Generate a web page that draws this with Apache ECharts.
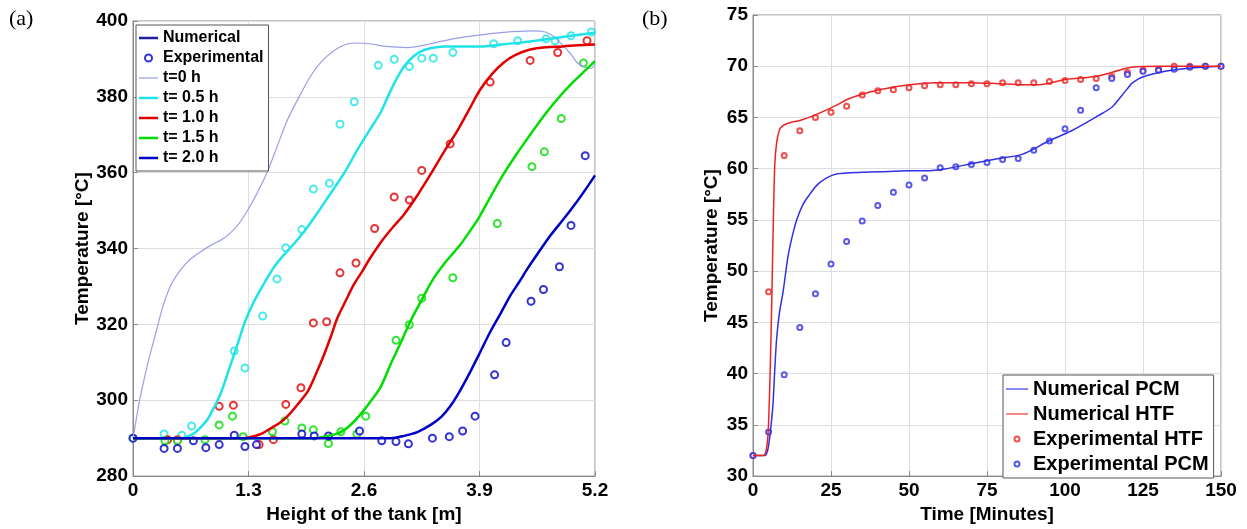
<!DOCTYPE html>
<html>
<head>
<meta charset="utf-8">
<script src="https://cdn.jsdelivr.net/npm/echarts@6/dist/echarts.min.js"></script>
<style>
  html, body { margin: 0; padding: 0; background: #fff; }
  #chart { width: 1247px; height: 529px; }
</style>
</head>
<body>
<div id="chart"></div>
<script>
// ---------- (a) temperature profiles along the tank height ----------
const heightTicks = [0, 1.3, 2.6, 3.9, 5.2];
const heightTickLabels = ['0', '1.3', '2.6', '3.9', '5.2'];
const tankTempTicks = [280, 300, 320, 340, 360, 380, 400];

const profileLabels = ['t=0 h', 't= 0.5 h', 't= 1.0 h', 't= 1.5 h', 't= 2.0 h'];
const profileColors = ['#9c9ce8', '#1ee4ea', '#e00000', '#00dd00', '#0000c8'];

// numerical profiles [height m, temperature °C]
const numT00 = [[0,290],[0.03,294],[0.07,299.5],[0.12,305],[0.18,311],[0.26,318],[0.34,325],[0.43,330.5],[0.54,334.5],[0.65,337.3],[0.77,339.3],[0.88,340.9],[1.0,342.4],[1.1,344.2],[1.2,346.8],[1.3,350.5],[1.4,354.8],[1.5,359.6],[1.6,365.5],[1.74,374],[1.87,380],[2.0,385.5],[2.15,390],[2.34,393.3],[2.5,394.2],[2.67,394],[2.85,393.3],[3.09,393],[3.35,394],[3.6,395.3],[3.9,396.3],[4.17,397],[4.47,397.4],[4.6,397.3],[4.7,396.5],[4.8,394.5],[4.92,391.5],[5.0,389],[5.07,388],[5.15,387.5],[5.2,388.6]];
const numT05 = [[0,290],[0.55,290],[0.62,290.5],[0.7,291.5],[0.78,293.3],[0.84,295],[0.92,298.5],[0.99,302],[1.05,306],[1.1,309.5],[1.18,315],[1.25,320],[1.33,324.5],[1.4,327.7],[1.5,331.8],[1.59,335.2],[1.7,338.4],[1.81,341.2],[1.92,344.3],[2.05,348.5],[2.22,354.4],[2.38,360],[2.53,366.2],[2.67,371.5],[2.79,376],[2.86,379.6],[2.95,384],[3.05,388],[3.15,390.5],[3.24,392],[3.35,392.8],[3.5,393.3],[3.7,393.3],[3.91,393.3],[4.15,393.8],[4.36,394.3],[4.6,395],[4.78,395.6],[5.0,396.3],[5.2,396.9]];
const numT10 = [[0,290],[1.25,290],[1.33,290.3],[1.45,291.2],[1.55,292.6],[1.65,294],[1.74,295.8],[1.85,298.8],[1.97,302.5],[2.06,307],[2.15,312],[2.23,317],[2.3,321.7],[2.4,326.5],[2.48,330.3],[2.58,334],[2.67,337.5],[2.8,342],[2.92,345.5],[3.05,349],[3.2,354],[3.35,359.6],[3.5,365.5],[3.65,371],[3.78,376.5],[3.91,382],[4.04,386],[4.17,389],[4.3,391],[4.47,392.5],[4.65,393.1],[4.84,393.3],[5.0,393.6],[5.2,393.8]];
const numT15 = [[0,290],[2.05,290],[2.15,290.4],[2.27,291],[2.37,292],[2.48,294.2],[2.6,297.4],[2.7,300.5],[2.79,303.6],[2.9,309.5],[3.0,314.5],[3.12,320.7],[3.25,326.5],[3.38,332],[3.52,336.5],[3.6,338.7],[3.69,341.2],[3.78,344.2],[3.88,347.6],[4.02,353.5],[4.17,359.6],[4.32,365],[4.47,370],[4.64,375.5],[4.81,380.3],[4.95,383.8],[5.07,386.5],[5.2,389.4]];
const numT20 = [[0,290],[2.9,290],[3.05,290.6],[3.2,291.6],[3.35,293.5],[3.47,295.6],[3.57,298.4],[3.68,302.5],[3.8,307.7],[3.91,312.8],[4.02,318],[4.14,323],[4.25,327.7],[4.35,331.3],[4.44,334.7],[4.55,338.5],[4.7,343.5],[4.84,347.6],[5.0,352.5],[5.1,355.8],[5.2,359.3]];

// measured profiles [height m, temperature °C]
const expT05 = [[0.35,291.1],[0.55,290.8],[0.66,293.2],[1.14,313],[1.26,308.5],[1.46,322.2],[1.62,332],[1.72,340.2],[1.9,345],[2.03,355.7],[2.21,357.2],[2.33,372.8],[2.49,378.7],[2.76,388.3],[2.94,389.9],[3.11,388],[3.25,390.2],[3.38,390.2],[3.6,391.7],[4.06,394],[4.33,394.8],[4.65,395.3],[4.75,394.8],[4.93,396.1],[5.16,397.1]];
const expT10 = [[0.39,289.6],[0.5,289.6],[0.97,298.4],[1.13,298.7],[1.42,288.3],[1.58,289.6],[1.72,298.9],[1.89,303.3],[2.03,320.4],[2.18,320.7],[2.33,333.6],[2.51,336.2],[2.72,345.3],[2.94,353.6],[3.11,352.8],[3.25,360.6],[3.57,367.6],[4.02,383.9],[4.47,389.6],[4.78,391.7],[5.11,394.8]];
const expT15 = [[0,290],[0.36,289.3],[0.5,289.3],[0.81,289.6],[0.97,293.5],[1.12,295.8],[1.24,290.4],[1.57,291.7],[1.71,294.5],[1.9,292.7],[2.03,292.2],[2.2,288.6],[2.34,291.7],[2.52,291.1],[2.62,295.8],[2.96,315.8],[3.11,319.9],[3.25,326.9],[3.6,332.3],[4.1,346.6],[4.49,361.6],[4.63,365.5],[4.82,374.3],[5.07,388.9]];
const expT20 = [[0,290],[0.35,287.3],[0.5,287.3],[0.68,289.3],[0.82,287.5],[0.97,288.3],[1.14,290.8],[1.26,287.8],[1.39,288.3],[1.9,291.1],[2.04,290.6],[2.2,290.6],[2.55,291.9],[2.8,289.3],[2.96,289.1],[3.1,288.5],[3.37,290],[3.56,290.4],[3.71,291.9],[3.85,295.8],[4.07,306.7],[4.2,315.2],[4.48,326.1],[4.62,329.2],[4.8,335.2],[4.93,346.1],[5.09,364.5]];

// ---------- (b) PCM and HTF temperature over time ----------
const timeTicks = [0, 25, 50, 75, 100, 125, 150];
const timeTempTicks = [30, 35, 40, 45, 50, 55, 60, 65, 70, 75];

// numerical histories [minutes, °C]
const numPCM = [[0,32],[3.8,32],[4.6,32.4],[5.1,33.2],[5.8,35],[6.4,37],[7.0,40.5],[7.6,43.5],[8.5,46],[9.6,47.9],[11.2,51.4],[12.5,53.3],[14,55],[16,56.5],[18.2,57.5],[20.5,58.4],[23.6,59.1],[27,59.5],[31,59.6],[40.5,59.7],[50.1,59.8],[56.5,59.8],[62,60.0],[67,60.3],[72,60.6],[78.8,61],[86.2,61.4],[94.8,62.7],[102.1,63.7],[110.8,65.2],[115,66],[118.1,67.1],[120.5,68.0],[121.3,68.3],[124.5,68.9],[132.1,69.5],[139.5,69.8],[150,70]];
const numHTF = [[0,32],[3.3,32],[4.2,32.5],[4.8,34],[5.3,38],[5.8,44],[6.2,50],[6.6,56],[7.0,60.5],[7.6,62.6],[8.5,63.8],[9.6,64.2],[12,64.5],[15,64.7],[20.4,65.3],[26.8,66.2],[30.5,66.8],[34.2,67.2],[40.5,67.7],[50.1,68.2],[58.7,68.4],[69.3,68.4],[78.8,68.3],[86.2,68.2],[91.6,68.2],[100.2,68.7],[109.8,69.0],[115,69.4],[121.3,69.9],[130.9,70],[150,70]];

// measurements every 5 minutes
const expTime = [0,5,10,15,20,25,30,35,40,45,50,55,60,65,70,75,80,85,90,95,100,105,110,115,120,125,130,135,140,145,150];
const expHTF = [32,48,61.3,63.7,65,65.5,66.1,67.2,67.6,67.7,67.9,68.1,68.2,68.2,68.3,68.3,68.4,68.4,68.4,68.5,68.6,68.7,68.8,69.0,69.4,69.6,69.7,70,70,70,70];
const expPCM = [32,34.3,39.9,44.5,47.8,50.7,52.9,54.9,56.4,57.7,58.4,59.1,60.1,60.2,60.4,60.6,60.9,61.0,61.8,62.7,63.9,65.7,67.9,68.8,69.2,69.5,69.6,69.7,69.9,70,70];

const FONT = 'Liberation Sans, Arial, sans-serif';
const pcmColor = '#3030e6';
const htfColor = '#ee2222';

function zip(xs, ys) { return xs.map((x, i) => [x, ys[i]]); }

// thin bar used as a legend key for the curves
function lineIcon(w, h) { return 'path://M0,0H' + w + 'V' + h + 'H0Z'; }

function valueAxis(ticks, labels, extra) {
  const step = ticks[1] - ticks[0];
  return Object.assign({
    type: 'value',
    min: ticks[0],
    max: ticks[ticks.length - 1],
    interval: step,
    axisLine: { show: true, onZero: false, lineStyle: { color: '#8a8a8a', width: 1 } },
    axisTick: { show: true, inside: true, length: 5, lineStyle: { color: '#8a8a8a' } },
    splitLine: { show: true, lineStyle: { color: '#dedede', width: 1 } },
    axisLabel: {
      color: '#000', fontFamily: FONT, fontWeight: 'bold', fontSize: 19, margin: 5,
      formatter: v => {
        const i = ticks.findIndex(t => Math.abs(t - v) < 1e-6);
        return i >= 0 ? labels[i] : '';
      }
    },
    nameLocation: 'middle',
    nameTextStyle: { color: '#000', fontFamily: FONT, fontWeight: 'bold', fontSize: 19 }
  }, extra);
}

const numProfiles = [numT00, numT05, numT10, numT15, numT20];
const expProfiles = [null, expT05, expT10, expT15, expT20];

const series = [];
// legend-only entries of panel (a)
series.push({ name: 'Numerical', type: 'line', xAxisIndex: 0, yAxisIndex: 0, data: [],
  symbol: 'none', lineStyle: { color: '#1e1e9e', width: 2.5 }, itemStyle: { color: '#1e1e9e' } });
series.push({ name: 'Experimental', type: 'scatter', xAxisIndex: 0, yAxisIndex: 0, data: [],
  symbol: 'emptyCircle', symbolSize: 7, itemStyle: { color: '#0000c8', borderColor: '#0000c8', borderWidth: 2 } });

numProfiles.forEach((d, i) => {
  series.push({
    name: profileLabels[i], type: 'line', xAxisIndex: 0, yAxisIndex: 0, data: d,
    smooth: 0.3, symbol: 'none',
    lineStyle: { color: profileColors[i], width: i === 0 ? 1.2 : 2.5 },
    itemStyle: { color: profileColors[i] }
  });
});
expProfiles.forEach((d, i) => {
  if (!d) return;
  series.push({
    name: 'measured ' + profileLabels[i], type: 'scatter', xAxisIndex: 0, yAxisIndex: 0, data: d,
    symbol: 'emptyCircle', symbolSize: 7,
    itemStyle: { color: profileColors[i], borderColor: profileColors[i], borderWidth: 1.9 }
  });
});

// panel (b)
series.push({ name: 'Numerical PCM', type: 'line', xAxisIndex: 1, yAxisIndex: 1, data: numPCM,
  smooth: 0.3, symbol: 'none', lineStyle: { color: pcmColor, width: 1.5 }, itemStyle: { color: pcmColor } });
series.push({ name: 'Numerical HTF', type: 'line', xAxisIndex: 1, yAxisIndex: 1, data: numHTF,
  smooth: 0.3, symbol: 'none', lineStyle: { color: htfColor, width: 1.5 }, itemStyle: { color: htfColor } });
series.push({ name: 'Experimental HTF', type: 'scatter', xAxisIndex: 1, yAxisIndex: 1, data: zip(expTime, expHTF),
  symbol: 'emptyCircle', symbolSize: 5, itemStyle: { color: htfColor, borderColor: htfColor, borderWidth: 1.2 } });
series.push({ name: 'Experimental PCM', type: 'scatter', xAxisIndex: 1, yAxisIndex: 1, data: zip(expTime, expPCM),
  symbol: 'emptyCircle', symbolSize: 5, itemStyle: { color: pcmColor, borderColor: pcmColor, borderWidth: 1.2 } });

const legendA = [
  { name: 'Numerical', icon: lineIcon(19, 2.5) },
  { name: 'Experimental' }
].concat(profileLabels.map((n, i) => ({ name: n, icon: lineIcon(19, i === 0 ? 1.2 : 2.5) })));

const legendB = [
  { name: 'Numerical PCM', icon: lineIcon(22, 1.6), itemStyle: { color: '#6a6af0' } },
  { name: 'Numerical HTF', icon: lineIcon(22, 1.6), itemStyle: { color: '#f06a6a' } },
  { name: 'Experimental HTF' },
  { name: 'Experimental PCM' }
];

const option = {
  animation: false,
  backgroundColor: '#fff',
  graphic: [
    { type: 'text', left: 9, top: 8, style: { text: '(a)', font: '22px "Liberation Serif", "Times New Roman", serif', fill: '#000' } },
    { type: 'text', left: 642, top: 8, style: { text: '(b)', font: '22px "Liberation Serif", "Times New Roman", serif', fill: '#000' } }
  ],
  grid: [
    { left: 133, top: 21, width: 462, height: 463, show: true, borderColor: '#8a8a8a', borderWidth: 1, backgroundColor: '#fff' },
    { left: 753, top: 15, width: 468, height: 468, show: true, borderColor: '#8a8a8a', borderWidth: 1, backgroundColor: '#fff' }
  ],
  xAxis: [
    valueAxis(heightTicks, heightTickLabels, { gridIndex: 0, name: 'Height of the tank [m]', nameGap: 24 }),
    valueAxis(timeTicks, timeTicks.map(String), { gridIndex: 1, name: 'Time [Minutes]', nameGap: 24 })
  ],
  yAxis: [
    valueAxis(tankTempTicks, tankTempTicks.map(String), { gridIndex: 0, name: 'Temperature [°C]', nameGap: 40 }),
    valueAxis(timeTempTicks, timeTempTicks.map(String), { gridIndex: 1, name: 'Temperature [°C]', nameGap: 32 })
  ],
  legend: [
    {
      orient: 'vertical', left: 136, top: 25,
      data: legendA,
      itemWidth: 19, itemHeight: 7, itemGap: 4,
      padding: [5, 5, 5, 3],
      backgroundColor: '#fff', borderColor: '#555', borderWidth: 1, borderRadius: 0,
      textStyle: { color: '#000', fontFamily: FONT, fontWeight: 'bold', fontSize: 16 },
      selectedMode: false
    },
    {
      orient: 'vertical', left: 1003, top: 375,
      data: legendB,
      itemWidth: 22, itemHeight: 5, itemGap: 5,
      padding: [4, 5, 4, 3],
      backgroundColor: '#fff', borderColor: '#555', borderWidth: 1, borderRadius: 0,
      textStyle: { color: '#000', fontFamily: FONT, fontWeight: 'bold', fontSize: 20 },
      selectedMode: false
    }
  ],
  series: series
};

const chart = echarts.init(document.getElementById('chart'), null, { renderer: 'canvas' });
chart.setOption(option);
</script>
</body>
</html>
